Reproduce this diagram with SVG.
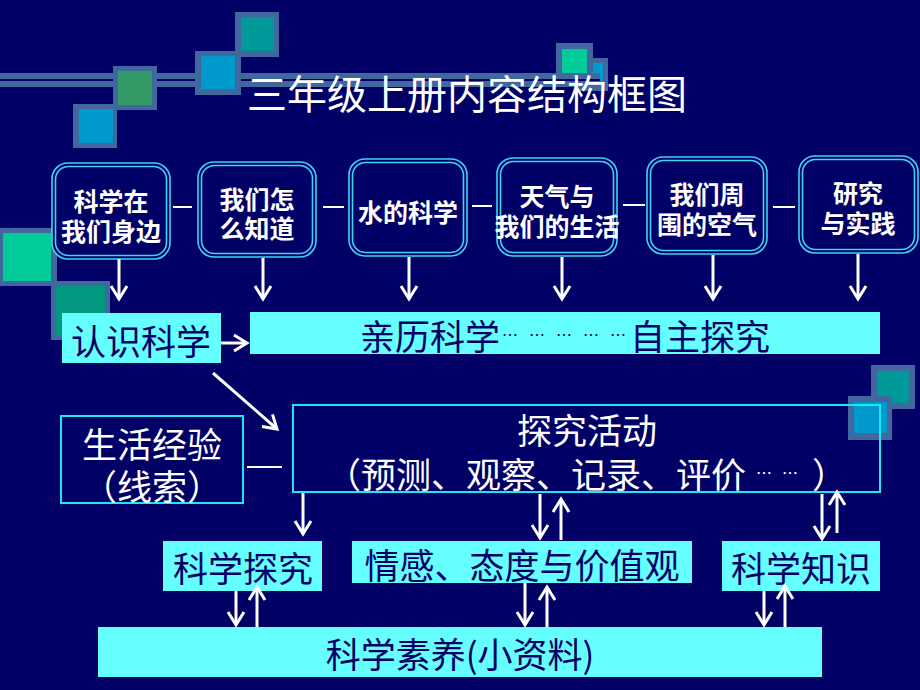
<svg xmlns="http://www.w3.org/2000/svg" width="920" height="690" viewBox="0 0 920 690">
<defs>
<style>
.cjk{font-family:"Noto Sans CJK SC","Noto Sans CJK TC",sans-serif;}
.t-top{font-size:25px;font-weight:700;fill:#fff;text-anchor:middle;dominant-baseline:central;}
.t-dark{font-size:35px;fill:#000066;text-anchor:middle;dominant-baseline:central;}
.t-white{font-size:35px;fill:#fff;text-anchor:middle;dominant-baseline:central;}
.rb-o{fill:#000066;stroke:#3ad6f2;stroke-width:1.6;}
.rb-i{fill:none;stroke:#3ad6f2;stroke-width:1.6;}
.cy{fill:#66ffff;}
.ob{fill:none;stroke:#1ee6f5;stroke-width:2;}
.ln{stroke:#fff;stroke-width:2;fill:none;}
.ar{stroke:#fff;stroke-width:3;fill:none;marker-end:url(#ah);}
.frame{fill:#40679e;}
</style>
<marker id="ah" markerUnits="userSpaceOnUse" markerWidth="30" markerHeight="30" viewBox="-15 -15 30 30" refX="0" refY="0" orient="auto" overflow="visible">
<path d="M-13,-8 L0,0 L-13,8" fill="none" stroke="#fff" stroke-width="3"/>
</marker>
</defs>
<rect x="0" y="0" width="920" height="690" fill="#000066"/>

<g id="decor">
<rect class="frame" x="575" y="58" width="33" height="33"/><rect x="581" y="63" width="22" height="22" fill="#0099cc"/>
<rect class="frame" x="0" y="73" width="600" height="14"/><rect x="0" y="79" width="600" height="2" fill="#000066"/>
<rect class="frame" x="556" y="43" width="37" height="31"/><rect x="562" y="49" width="25" height="24" fill="#00cc99"/>
<rect class="frame" x="73" y="104" width="44" height="44"/><rect x="79" y="109" width="34" height="34" fill="#0099cc"/>
<rect class="frame" x="113" y="66" width="44" height="44"/><rect x="118" y="71" width="34" height="34" fill="#339966"/>
<rect class="frame" x="195" y="51" width="46" height="44"/><rect x="201" y="56" width="34" height="33" fill="#0099cc"/>
<rect class="frame" x="235" y="12" width="44" height="45"/><rect x="241" y="17" width="33" height="34" fill="#009999"/>
<rect class="frame" x="0" y="228" width="57" height="58"/><rect x="3" y="233" width="48" height="48" fill="#00cc99"/>
<rect class="frame" x="51" y="281" width="59" height="59"/><rect x="56" y="286" width="49" height="49" fill="#009980"/>
<rect class="frame" x="871" y="365" width="44" height="44"/><rect x="877" y="371" width="32" height="32" fill="#009999"/>
<rect class="frame" x="848" y="396" width="44" height="44"/><rect x="854" y="402" width="33" height="31" fill="#0099cc"/>
</g>

<g id="title">
<text class="cjk" x="467" y="92" font-size="40" fill="#fff" text-anchor="middle" dominant-baseline="central">三年级上册内容结构框图</text>
</g>

<g id="n-kxzwmsb">
<rect class="rb-o" x="52" y="163" width="118" height="96" rx="16"/>
<rect class="rb-i" x="55.5" y="166.5" width="111" height="89" rx="13"/>
<text class="cjk t-top" x="111" y="200">科学在</text>
<text class="cjk t-top" x="111" y="230">我们身边</text>
</g>
<g id="n-wmzmzd">
<rect class="rb-o" x="198" y="162" width="118" height="95" rx="16"/>
<rect class="rb-i" x="201.5" y="165.5" width="111" height="88" rx="13"/>
<text class="cjk t-top" x="257" y="198">我们怎</text>
<text class="cjk t-top" x="257" y="227">么知道</text>
</g>
<g id="n-sdkx">
<rect class="rb-o" x="349" y="159" width="118" height="97" rx="16"/>
<rect class="rb-i" x="352.5" y="162.5" width="111" height="90" rx="13"/>
<text class="cjk t-top" x="408" y="211">水的科学</text>
</g>
<g id="n-tqy">
<rect class="rb-o" x="497" y="158" width="120" height="98" rx="16"/>
<rect class="rb-i" x="500.5" y="161.5" width="113" height="91" rx="13"/>
<text class="cjk t-top" x="557" y="195">天气与</text>
<text class="cjk t-top" x="557" y="225">我们的生活</text>
</g>
<g id="n-wmzw">
<rect class="rb-o" x="647" y="157" width="120" height="97" rx="16"/>
<rect class="rb-i" x="650.5" y="160.5" width="113" height="90" rx="13"/>
<text class="cjk t-top" x="707" y="193">我们周</text>
<text class="cjk t-top" x="707" y="223">围的空气</text>
</g>
<g id="n-yjysj">
<rect class="rb-o" x="799" y="156" width="119" height="97" rx="16"/>
<rect class="rb-i" x="802.5" y="159.5" width="112" height="90" rx="13"/>
<text class="cjk t-top" x="858" y="192">研究</text>
<text class="cjk t-top" x="858" y="222">与实践</text>
</g>

<g id="n-rskx">
<rect class="cy" x="62" y="313" width="159" height="50"/>
<text class="cjk t-dark" x="141" y="339">认识科学</text>
</g>
<g id="n-qlkx">
<rect class="cy" x="250" y="312" width="630" height="42"/>
<text class="cjk" font-size="35" fill="#000066" dominant-baseline="central" y="334"><tspan x="360">亲历科学</tspan><tspan font-size="16" x="502 529 556 583 610">……………</tspan><tspan x="630">自主探究</tspan></text>
</g>

<g id="n-shjy">
<rect class="ob" x="61" y="416" width="182" height="87"/>
<text class="cjk t-white" x="152" y="442">生活经验</text>
<text class="cjk t-white" x="152" y="484">（线索）</text>
</g>
<g id="n-tjhd">
<rect class="ob" x="293" y="405" width="587" height="87"/>
<text class="cjk t-white" x="587" y="428">探究活动</text>
<text class="cjk" font-size="35" fill="#fff" dominant-baseline="central" y="472"><tspan x="326">（预测、观察、记录、评价</tspan><tspan font-size="16" x="756 782">……</tspan><tspan x="812">）</tspan></text>
</g>

<g id="n-kxtj">
<rect class="cy" x="163" y="541" width="159" height="50"/>
<text class="cjk t-dark" x="243" y="566">科学探究</text>
</g>
<g id="n-qg">
<rect class="cy" x="352" y="541" width="340" height="42"/>
<text class="cjk t-dark" x="522" y="563">情感、态度与价值观</text>
</g>
<g id="n-kxzs">
<rect class="cy" x="722" y="541" width="158" height="50"/>
<text class="cjk t-dark" x="801" y="566">科学知识</text>
</g>
<g id="n-kxsy">
<rect class="cy" x="98" y="627" width="724" height="50"/>
<text class="cjk t-dark" x="460" y="652">科学素养(小资料)</text>
</g>

<g id="connectors">
<line class="ln" x1="173" y1="207" x2="192" y2="207"/>
<line class="ln" x1="323" y1="207" x2="344" y2="207"/>
<line class="ln" x1="472" y1="206" x2="492" y2="206"/>
<line class="ln" x1="623" y1="205" x2="645" y2="205"/>
<line class="ln" x1="773" y1="207" x2="795" y2="207"/>
<line class="ar" x1="119" y1="259" x2="119" y2="299"/>
<line class="ar" x1="263" y1="258" x2="263" y2="299"/>
<line class="ar" x1="409" y1="257" x2="409" y2="299"/>
<line class="ar" x1="562" y1="257" x2="562" y2="299"/>
<line class="ar" x1="713" y1="255" x2="713" y2="299"/>
<line class="ar" x1="858" y1="254" x2="858" y2="299"/>
<line class="ar" x1="221" y1="343" x2="247" y2="343"/>
<line class="ar" x1="213" y1="373" x2="277" y2="429"/>
<line class="ln" x1="247" y1="467" x2="282" y2="467"/>
<line class="ar" x1="303" y1="493" x2="303" y2="534"/>
<line class="ar" x1="540" y1="494" x2="540" y2="538"/>
<line class="ar" x1="561" y1="540" x2="561" y2="499"/>
<line class="ar" x1="822" y1="494" x2="822" y2="539"/>
<line class="ar" x1="837" y1="533" x2="837" y2="492"/>
<line class="ar" x1="236" y1="591" x2="236" y2="625"/>
<line class="ar" x1="257" y1="627" x2="257" y2="587"/>
<line class="ar" x1="525" y1="583" x2="525" y2="625"/>
<line class="ar" x1="547" y1="627" x2="547" y2="587"/>
<line class="ar" x1="764" y1="591" x2="764" y2="625"/>
<line class="ar" x1="785" y1="627" x2="785" y2="586"/>
</g>
</svg>
